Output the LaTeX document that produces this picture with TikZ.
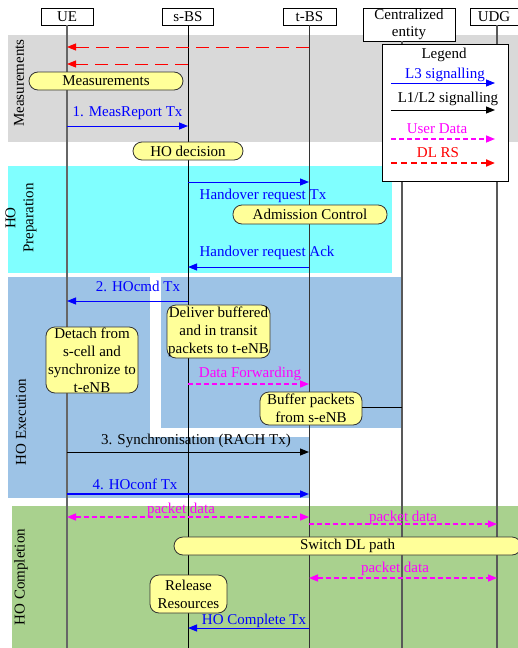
\documentclass[tikz,border=0pt]{standalone}
\usepackage{fontspec}
\setmainfont{Liberation Serif}
\usetikzlibrary{arrows.meta,calc}
\definecolor{bandgray}{HTML}{D9D9D9}
\definecolor{bandcyan}{HTML}{80FFFF}
\definecolor{bandblue}{HTML}{9DC3E6}
\definecolor{bandgreen}{HTML}{A9D18E}
\definecolor{boxyellow}{HTML}{FFFF99}
\definecolor{sigblue}{HTML}{0000FF}
\definecolor{magentac}{HTML}{FF00FF}
\definecolor{redc}{HTML}{FF0000}
\begin{document}
\begin{tikzpicture}[x=1pt,y=-1pt,font=\fontsize{15}{18}\selectfont,
  hdr/.style={draw,fill=white,inner sep=0pt,minimum height=17pt,align=center},
  proc/.style={draw=black!80,line width=0.8pt,fill=boxyellow,inner sep=0pt,align=center},
  lifeline/.style={line width=1pt,black},
  tipend/.style={-{Triangle[length=9pt,width=7pt]}},
  l3/.style={draw=sigblue,line width=1pt,tipend},
  l12/.style={draw=black,line width=1pt,tipend},
  udata/.style={draw=magentac,line width=1.5pt,dash pattern=on 5pt off 3pt,tipend},
  udatab/.style={draw=magentac,line width=1.5pt,dash pattern=on 5pt off 3pt,{Triangle[length=9pt,width=7pt]}-{Triangle[length=9pt,width=7pt]}},
  dlrs/.style={draw=redc,line width=1pt,dash pattern=on 13pt off 7pt,tipend},
  lbl/.style={inner sep=0pt},
  bandlbl/.style={rotate=90,inner sep=0pt,align=center}]
\useasboundingbox (0,0) rectangle (518,648);
\fill[white] (0,0) rectangle (518,648);
% bands
\fill[bandgray] (8,35) rectangle (518,142);
\fill[bandcyan] (8,166) rectangle (392,273);
\fill[bandblue] (8,277) rectangle (150,498);
\fill[bandblue] (161,277) rectangle (402,428);
\fill[bandblue] (8,437) rectangle (309,498);
\fill[bandgreen] (12,506) rectangle (518,648);
\node[bandlbl] (bm) at (19,83) {Measurements};
\node[bandlbl] (bp) at (21,218) {HO\\Preparation};
\node[bandlbl] (be) at (21,422) {HO Execution};
\node[bandlbl] (bc) at (21,577) {HO Completion};
% headers
\node[hdr,minimum width=52pt] (UE) at (67,16.5) {UE};
\node[hdr,minimum width=51pt] (SBS) at (188,16.5) {s-BS};
\node[hdr,minimum width=53pt] (TBS) at (309.5,16.5) {t-BS};
\node[hdr,minimum width=92pt,minimum height=33pt,font=\fontsize{15}{17}\selectfont] (CE) at (409,24.5) {Centralized\\entity};
\node[hdr,minimum width=48pt] (UDG) at (494,16.5) {UDG};
% lifeline coordinates
\coordinate (ue) at (67,25);   \coordinate (ueE) at (67,648);
\coordinate (sbs) at (188,25); \coordinate (sbsE) at (188,648);
\coordinate (tbs) at (309,25); \coordinate (tbsE) at (309,648);
\coordinate (ce) at (402,41);  \coordinate (ceE) at (402,648);
\coordinate (udg) at (497,25); \coordinate (udgE) at (497,648);
\draw[line width=1.5pt,black!60] (ue) -- (ueE);
\draw[lifeline] (sbs) -- (sbsE);
\draw[lifeline,black!80] (tbs) -- (tbsE);
\draw[line width=1.2pt,black!65] (ce) -- (ceE);
\draw[line width=1.2pt,black!65] (udg) -- (udgE);
% measurements
\draw[dlrs] (tbs |- 0,47) -- (ue |- 0,47);
\draw[dlrs] (sbs |- 0,64) -- (ue |- 0,64);
\node[proc,rounded corners=9pt,minimum width=154pt,minimum height=18pt] (meas) at (106,81) {Measurements};
\draw[l3] (ue |- 0,126) -- node[lbl,above=6pt,sigblue] (m1) {1. MeasReport Tx} (sbs |- 0,126);
\node[proc,rounded corners=9pt,minimum width=110pt,minimum height=18pt] (hod) at (188,151) {HO decision};
% preparation
\draw[l3] (sbs |- 0,182) -- (tbs |- 0,182);
\node[lbl,sigblue] (hrt) at (263,196) {Handover request Tx};
\node[proc,rounded corners=9pt,minimum width=154pt,minimum height=19pt] (adm) at (310,214.5) {Admission Control};
\node[lbl,sigblue] (hra) at (267,253) {Handover request Ack};
\draw[l3] (tbs |- 0,267) -- (sbs |- 0,267);
% execution
\node[lbl,sigblue] (hoc) at (138,286) {2. HOcmd Tx};
\draw[l3] (sbs |- 0,301) -- (ue |- 0,301);
\node[proc,rounded corners=9pt,minimum width=92pt,minimum height=66pt] (det) at (92,360) {Detach from\\s-cell and\\synchronize to\\t-eNB};
\node[proc,rounded corners=9pt,minimum width=103pt,minimum height=53pt] (del) at (218.5,331.5) {Deliver buffered\\and in transit\\packets to t-eNB};
\node[lbl,magentac] (dfw) at (250,374) {Data Forwarding};
\draw[udata] (sbs |- 0,384) -- (tbs |- 0,384);
\node[proc,rounded corners=9pt,minimum width=102pt,minimum height=33pt] (buf) at (311,408.5) {Buffer packets\\from s-eNB};
\draw[line width=1pt] (buf.east |- 0,407) -- (ce |- 0,407);
\node[lbl] (syn) at (196,441) {3. Synchronisation (RACH Tx)};
\draw[l12] (ue |- 0,452) -- (tbs |- 0,452);
\node[lbl,sigblue] (hcf) at (135,484) {4. HOconf Tx};
\draw[l3,line width=1.5pt] (ue |- 0,494) -- (tbs |- 0,494);
% completion
\node[lbl,magentac] (pd1) at (181,510) {packet data};
\draw[udatab] (ue |- 0,517) -- (tbs |- 0,517);
\node[lbl,magentac] (pd2) at (403,518) {packet data};
\draw[udata] (tbs |- 0,524) -- (udg |- 0,524);
\node[proc,rounded corners=9pt,minimum width=347pt,minimum height=18pt] (sw) at (347.5,546) {Switch DL path};
\node[lbl,magentac] (pd3) at (395,569) {packet data};
\draw[udatab] (tbs |- 0,578) -- (udg |- 0,578);
\node[proc,rounded corners=9pt,minimum width=77pt,minimum height=38pt] (rel) at (188.5,594) {Release\\Resources};
\node[lbl,sigblue] (hct) at (254,621) {HO Complete Tx};
\draw[l3] (tbs |- 0,628) -- (sbs |- 0,628);
% legend
\node[draw,fill=white,line width=1pt,minimum width=126pt,minimum height=137pt,inner sep=0pt] (legend) at (445,112.5) {};
\node[lbl] (lg) at (444,55) {Legend};
\node[lbl,sigblue] (lg1) at (445,75) {L3 signalling};
\coordinate (la1) at (391,83); \coordinate (lb1) at (495,83);
\draw[l3,line width=0.8pt] (la1) -- (lb1);
\node[lbl] (lg2) at (448,99) {L1/L2 signalling};
\coordinate (la2) at (391,110); \coordinate (lb2) at (495,110);
\draw[l12] (la2) -- (lb2);
\node[lbl,magentac] (lg3) at (437,129) {User Data};
\coordinate (la3) at (391,139); \coordinate (lb3) at (495,139);
\draw[udata] (la3) -- (lb3);
\node[lbl,redc] (lg4) at (438,153) {DL RS};
\coordinate (la4) at (391,163); \coordinate (lb4) at (495,163);
\draw[draw=redc,line width=2pt,dash pattern=on 6pt off 4pt,tipend] (la4) -- (lb4);
\end{tikzpicture}
\end{document}
